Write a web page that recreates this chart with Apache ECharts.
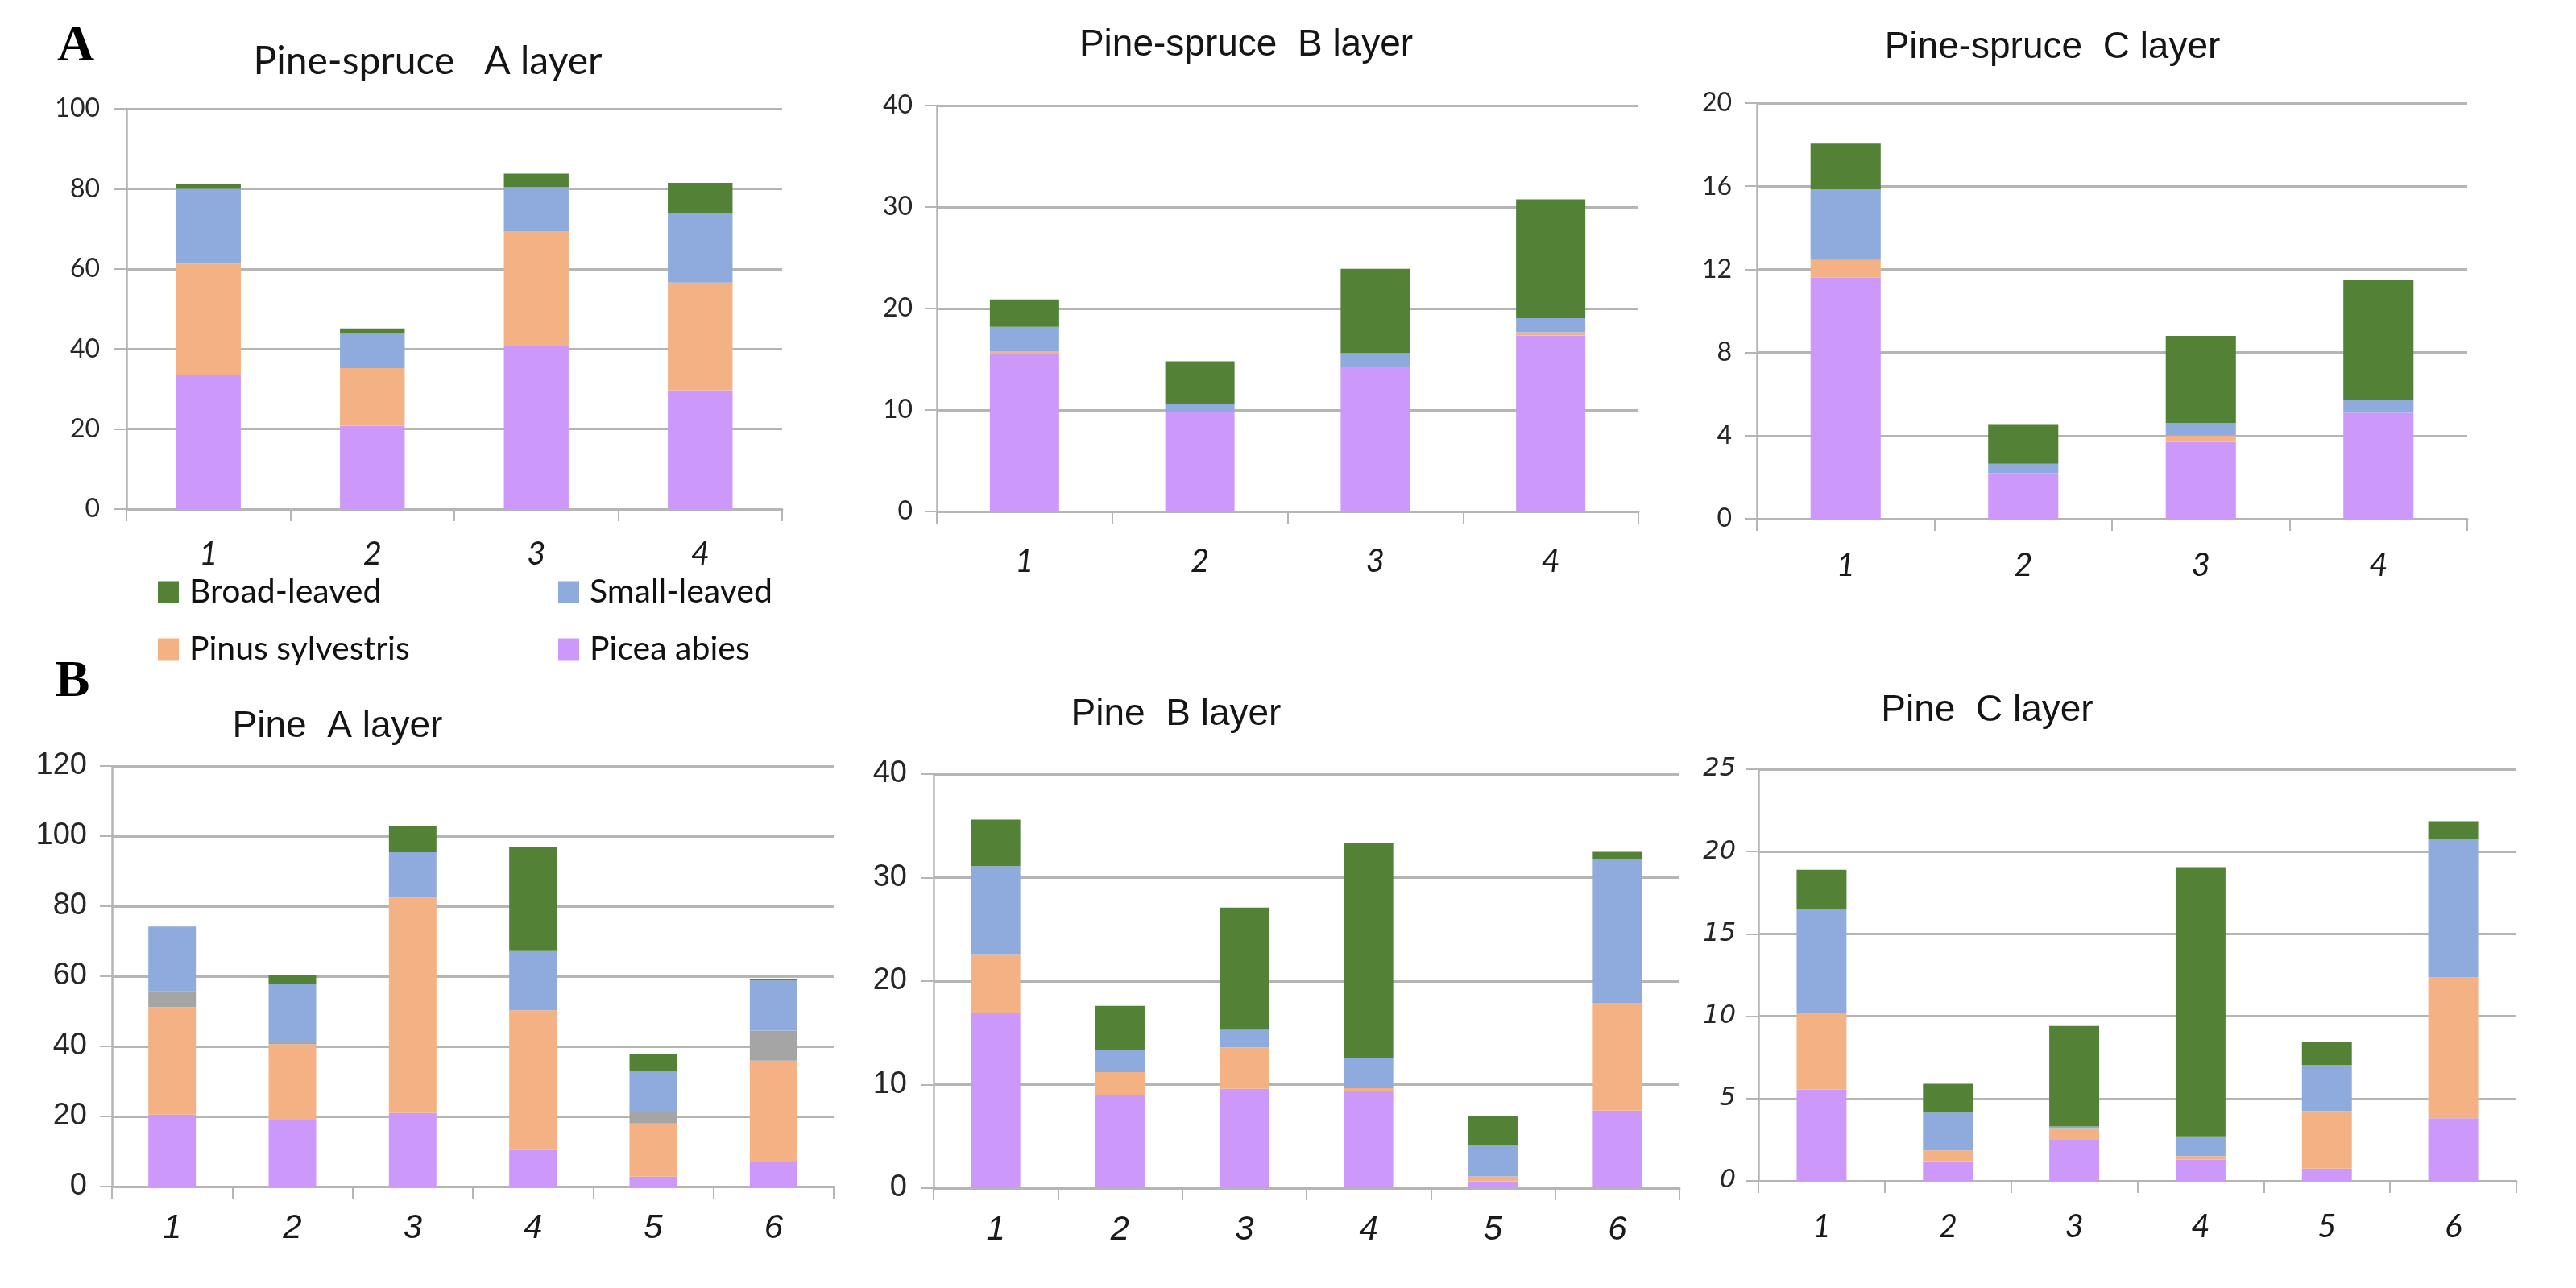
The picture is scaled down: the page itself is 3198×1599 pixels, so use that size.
<!DOCTYPE html>
<html>
<head>
<meta charset="utf-8">
<script src="https://cdn.jsdelivr.net/npm/echarts@6/dist/echarts.min.js"></script>
<style>
html,body{margin:0;padding:0;background:#fff;}
#main{width:3198px;height:1599px;}
</style>
</head>
<body>
<div id="main"></div>
<script>
// ---------- DATA ----------
const catSpruce = ['1', '2', '3', '4'];
const catPine = ['1', '2', '3', '4', '5', '6'];
const seriesNames = ['Picea abies', 'Pinus sylvestris', 'Other', 'Small-leaved', 'Broad-leaved'];
const legendNames = ['Broad-leaved', 'Small-leaved', 'Pinus sylvestris', 'Picea abies'];
const panelTitles = ['Pine-spruce   A layer', 'Pine-spruce  B layer', 'Pine-spruce  C layer', 'Pine  A layer', 'Pine  B layer', 'Pine  C layer'];
const panelLetters = ['A', 'B'];

// Pine-spruce A layer
const psA_picea = [33.4, 20.8, 40.7, 29.7];
const psA_pinus = [27.9, 14.4, 28.7, 26.9];
const psA_small = [18.7, 8.6, 11.0, 17.2];
const psA_broad = [1.1, 1.3, 3.4, 7.7];
// Pine-spruce B layer
const psB_picea = [15.5, 9.8, 14.2, 17.35];
const psB_pinus = [0.3, 0, 0, 0.3];
const psB_small = [2.4, 0.8, 1.4, 1.4];
const psB_broad = [2.7, 4.2, 8.3, 11.7];
// Pine-spruce C layer
const psC_picea = [11.6, 2.2, 3.7, 5.1];
const psC_pinus = [0.85, 0, 0.3, 0];
const psC_small = [3.4, 0.45, 0.6, 0.6];
const psC_broad = [2.2, 1.9, 4.2, 5.8];
// Pine A layer
const pA_picea = [20.5, 18.85, 21.0, 10.4, 2.8, 7.0];
const pA_pinus = [30.7, 21.75, 61.5, 39.9, 15.2, 28.9];
const pA_other = [4.6, 0.8, 0, 0, 3.3, 8.6];
const pA_small = [18.4, 16.4, 12.9, 16.9, 11.7, 14.3];
const pA_broad = [0, 2.6, 7.5, 29.7, 4.7, 0.3];
// Pine B layer
const pB_picea = [16.9, 9.0, 9.6, 9.35, 0.67, 7.5];
const pB_pinus = [5.7, 2.2, 4.0, 0.3, 0.45, 10.4];
const pB_small = [8.5, 2.1, 1.7, 2.95, 3.0, 13.9];
const pB_broad = [4.5, 4.3, 11.8, 20.7, 2.8, 0.7];
// Pine C layer
const pC_picea = [5.55, 1.2, 2.5, 1.3, 0.75, 3.8];
const pC_pinus = [4.65, 0.65, 0.7, 0.2, 3.5, 8.55];
const pC_small = [6.3, 2.3, 0.1, 1.2, 2.8, 8.4];
const pC_broad = [2.4, 1.75, 6.1, 16.35, 1.4, 1.1];

// y axis ranges
const yMax = [100, 40, 20, 120, 40, 25];
const yStep = [20, 10, 4, 20, 10, 5];

// ---------- STYLE / LAYOUT ----------
const colors = {
  'Picea abies': '#cc99fb',
  'Pinus sylvestris': '#f4b183',
  'Other': '#a5a5a5',
  'Small-leaved': '#8faadc',
  'Broad-leaved': '#538135'
};
const CAL = 'Lato, "Open Sans", sans-serif';
const NAR = '"Liberation Sans Narrow", "Liberation Sans", Arial, sans-serif';
const GRID_C = '#b5b5b5';

const panels = [
  {cats: catSpruce, data: [psA_picea, psA_pinus, null, psA_small, psA_broad],
   grid: {left: 157, top: 135, width: 814, height: 497},
   title: {x: 531, y: 77, font: CAL, size: 48},
   yl: {font: CAL, size: 32, style: 'normal', margin: 33},
   xl: {font: CAL, size: 40, margin: 36}},
  {cats: catSpruce, data: [psB_picea, psB_pinus, null, psB_small, psB_broad],
   grid: {left: 1163, top: 131, width: 871, height: 504},
   title: {x: 1547, y: 56, font: NAR, size: 46},
   yl: {font: CAL, size: 32, style: 'normal', margin: 30},
   xl: {font: CAL, size: 40, margin: 42}},
  {cats: catSpruce, data: [psC_picea, psC_pinus, null, psC_small, psC_broad],
   grid: {left: 2181, top: 128, width: 882, height: 516},
   title: {x: 2548, y: 59, font: NAR, size: 46},
   yl: {font: CAL, size: 32, style: 'normal', margin: 31},
   xl: {font: CAL, size: 40, margin: 38}},
  {cats: catPine, data: [pA_picea, pA_pinus, pA_other, pA_small, pA_broad],
   grid: {left: 139, top: 951, width: 896, height: 522},
   title: {x: 419, y: 902, font: NAR, size: 46},
   yl: {font: NAR, size: 38, style: 'normal', margin: 31},
   xl: {font: NAR, size: 42, margin: 31}},
  {cats: catPine, data: [pB_picea, pB_pinus, null, pB_small, pB_broad],
   grid: {left: 1159, top: 961, width: 926, height: 514},
   title: {x: 1460, y: 887, font: NAR, size: 46},
   yl: {font: NAR, size: 38, style: 'normal', margin: 33},
   xl: {font: NAR, size: 42, margin: 31}},
  {cats: catPine, data: [pC_picea, pC_pinus, null, pC_small, pC_broad],
   grid: {left: 2183, top: 955, width: 941, height: 511},
   title: {x: 2467, y: 882, font: NAR, size: 46},
   yl: {font: '"DejaVu Sans", sans-serif', size: 32, style: 'italic', margin: 28},
   xl: {font: CAL, size: 40, margin: 37}}
];

const grids = [], xAxes = [], yAxes = [], series = [], titles = [];
panels.forEach((p, i) => {
  grids.push(Object.assign({}, p.grid));
  xAxes.push({
    type: 'category', gridIndex: i, data: p.cats,
    axisLine: {show: true, lineStyle: {color: GRID_C, width: 3}},
    axisTick: {show: true, alignWithLabel: false, length: 15, lineStyle: {color: GRID_C, width: 2}},
    axisLabel: {fontFamily: p.xl.font, fontSize: p.xl.size, fontStyle: 'italic', color: '#1a1a1a', margin: p.xl.margin},
    splitLine: {show: false}
  });
  yAxes.push({
    type: 'value', gridIndex: i, min: 0, max: yMax[i], interval: yStep[i],
    axisLine: {show: true, lineStyle: {color: GRID_C, width: 2.5}},
    axisTick: {show: true, length: 15, lineStyle: {color: GRID_C, width: 2}},
    axisLabel: {fontFamily: p.yl.font, fontSize: p.yl.size, fontStyle: p.yl.style, color: '#262626', margin: p.yl.margin},
    splitLine: {show: true, lineStyle: {color: GRID_C, width: 3}}
  });
  p.data.forEach((arr, k) => {
    if (!arr) return;
    const nm = seriesNames[k];
    series.push({
      name: nm, type: 'bar', stack: 'stack' + i,
      xAxisIndex: i, yAxisIndex: i,
      barWidth: '39.5%', data: arr,
      itemStyle: {color: colors[nm]},
      emphasis: {disabled: true}, animation: false
    });
  });
  titles.push({
    text: panelTitles[i], left: p.title.x, top: p.title.y - p.title.size * 0.6,
    textAlign: 'center', padding: 0,
    textStyle: {fontFamily: p.title.font, fontSize: p.title.size, fontWeight: 'normal', color: '#151515', lineHeight: p.title.size * 1.2}
  });
});
// panel letters
titles.push({text: panelLetters[0], left: 94, top: 58 - 39, textAlign: 'center', padding: 0,
  textStyle: {fontFamily: '"Liberation Serif", "DejaVu Serif", serif', fontSize: 64, fontWeight: 'bold', color: '#000', lineHeight: 78}});
titles.push({text: panelLetters[1], left: 90, top: 847 - 39, textAlign: 'center', padding: 0,
  textStyle: {fontFamily: '"Liberation Serif", "DejaVu Serif", serif', fontSize: 64, fontWeight: 'bold', color: '#000', lineHeight: 78}});

// legends: 2x2 block under the first panel
const legendPos = [
  {left: 196, cy: 735}, {left: 693, cy: 735},
  {left: 196, cy: 806}, {left: 693, cy: 806}
];
const legends = legendNames.map((nm, j) => ({
  data: [nm], left: legendPos[j].left, top: legendPos[j].cy - 23,
  orient: 'horizontal', padding: 0, icon: 'rect', itemWidth: 26, itemHeight: 27,
  selectedMode: false,
  textStyle: {fontFamily: CAL, fontSize: 41, color: '#111', lineHeight: 46, padding: [0, 0, 0, 8]}
}));

const chart = echarts.init(document.getElementById('main'), null, {renderer: 'canvas'});
chart.setOption({
  backgroundColor: '#ffffff',
  animation: false,
  title: titles,
  legend: legends,
  grid: grids,
  xAxis: xAxes,
  yAxis: yAxes,
  series: series
});
</script>
</body>
</html>
